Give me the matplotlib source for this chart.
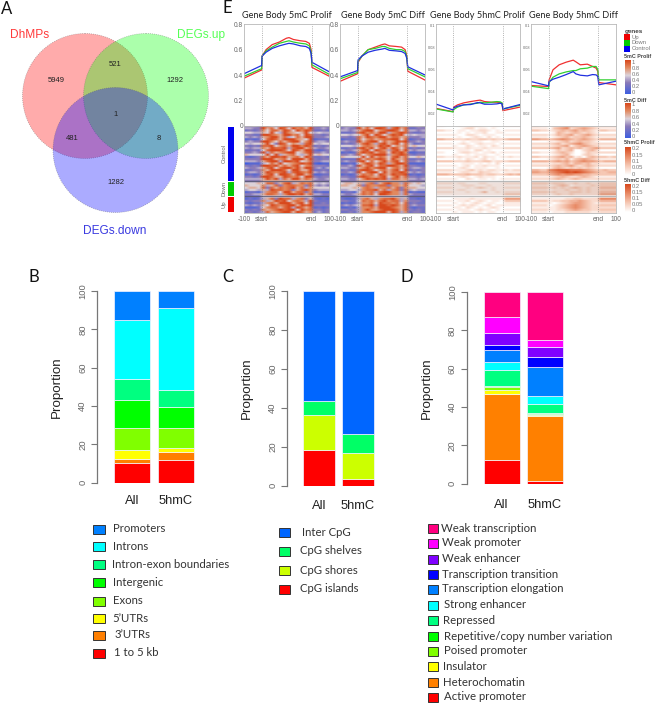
import numpy as np
import matplotlib
matplotlib.use('Agg')
import matplotlib.pyplot as plt
from matplotlib.colors import LinearSegmentedColormap
from matplotlib.patches import Circle, Rectangle

W, H = 655, 703
ARIAL = 'Liberation Sans'
CAL = 'Lato'

# panel A
VENN_NAMES = ['DhMPs', 'DEGs.up', 'DEGs.down']
VENN_COUNTS = [5949, 521, 1292, 481, 1, 8, 1282]

# panel B
B_NAMES = ['1 to 5 kb', "3\u2019UTRs", "5\u2019UTRs", 'Exons', 'Intergenic',
           'Intron-exon boundaries', 'Introns', 'Promoters']
B_ALL = [10.5, 2, 4.5, 11.5, 14.5, 11, 31, 15]
B_HMC = [12, 4, 2, 10.5, 11, 9, 42.5, 9]
B_COLORS = ['#ff0000', '#ff7f00', '#ffff00', '#80ff00', '#00ff00', '#00ff80', '#00ffff', '#0080ff']

# panel C
C_NAMES = ['CpG islands', 'CpG shores', 'CpG shelves', 'Inter CpG']
C_ALL = [18.5, 18, 7, 56.5]
C_HMC = [3.5, 13.5, 9.5, 73.5]
C_COLORS = ['#ff0000', '#ccff00', '#00ff66', '#0066ff']

# panel D
D_NAMES = ['Active promoter', 'Heterochomatin', 'Insulator', 'Poised promoter',
           'Repetitive/copy number variation', 'Repressed', 'Strong enhancer',
           'Transcription elongation', 'Transcription transition', 'Weak enhancer',
           'Weak promoter', 'Weak transcription']
D_ALL = [12.5, 34.5, 2, 1.5, 0.5, 8.5, 4, 6.5, 2.5, 6, 8.5, 13]
D_HMC = [1.5, 34, 0.5, 0.5, 0.5, 4.5, 4, 15.5, 5, 5.5, 3.5, 25]
D_COLORS = ['#ff0000', '#ff8000', '#ffff00', '#80ff00', '#00ff00', '#00ff80', '#00ffff',
            '#0080ff', '#0000ff', '#8000ff', '#ff00ff', '#ff0080']

# panel E profiles
E_TITLES = ['Gene Body 5mC Prolif', 'Gene Body 5mC Diff', 'Gene Body 5hmC Prolif', 'Gene Body 5hmC Diff']
E_X = [0, 100, 103, 125, 160, 200, 240, 255, 280, 320, 350, 370, 380, 385, 483]
P1_UP = [.375, .44, .55, .60, .64, .66, .69, .695, .68, .67, .665, .65, .60, .46, .39]
P1_DOWN = [.39, .45, .55, .59, .62, .65, .665, .67, .66, .65, .645, .63, .58, .48, .405]
P1_CTRL = [.41, .475, .55, .58, .61, .63, .645, .65, .645, .63, .625, .61, .57, .50, .425]
P2_UP = [.35, .41, .50, .55, .60, .62, .64, .645, .63, .625, .62, .60, .55, .43, .36]
P2_DOWN = [.37, .42, .51, .55, .60, .61, .625, .625, .61, .60, .60, .585, .54, .45, .385]
P2_CTRL = [.385, .435, .52, .55, .58, .595, .605, .61, .595, .59, .585, .57, .53, .465, .40]
P3_UP = [.0251, .0221, .0262, .0282, .0300, .0312, .0322, .0325, .0312, .0306, .0306, .0303, .0297, .0230, .0262]
P3_DOWN = [.0246, .0218, .0240, .0262, .0282, .0290, .0297, .0306, .0300, .0306, .0312, .0309, .0300, .0245, .0278]
P3_CTRL = [.0290, .0236, .0255, .0270, .0282, .0285, .0303, .0300, .0288, .0288, .0291, .0297, .0291, .0245, .0285]
P4_UP = [.0457, .0448, .0508, .0599, .0644, .0668, .0686, .0671, .0644, .0650, .0629, .0614, .0583, .0484, .0463]
P4_DOWN = [.0451, .0429, .0484, .0532, .0562, .0580, .0592, .0592, .0608, .0614, .0629, .0629, .0599, .0508, .0508]
P4_CTRL = [.0493, .0454, .0493, .0514, .0532, .0556, .0583, .0562, .0550, .0544, .0556, .0553, .0538, .0463, .0496]

# heatmap rows, one digit per cell: 4 left flank, 12 gene body, 4 right flank
HEAT_1 = [
    '33438954799687583233', '44339685985978693343', '23237588698597982232', '55446595497656954544',
    '33229987699785983323', '43436799684586993334', '12125898699976591222', '34339975868995793443',
    '54556953985764895455', '32328895786997982323', '43447698894899684334', '22325899985986992123',
    '33439486789956893343', '65555959467854695655', '21238699896785982232', '33339996785999693233',
    '44436899499895683344', '01114586956789891011', '32329989686895783332', '43346895899796993424',
    '22337699985996692232', '34436987894898794343', '12126895998699681122', '33239986698785993233',
    '44446979486996874334', '33336666666666663333', '55565883689468785454', '65557468378877384343',
    '56658386878968475555', '45546498878368973444', '12214788599688371211', '33446887479989684433',
    '22225555555555552222', '12124683988478362121', '32337469895787493222', '21224786999689592232',
    '43436598789969893333', '11125788689498681212', '32327678989959783323', '23234867899698672423',
]
HEAT_2 = [
    '23438598689579873343', '34339685998489682233', '44346899578998584434', '22238978699478983223',
    '55455795985798954544', '33238698799688673334', '12228578678899581232', '34339689958679893343',
    '23236897489689584223', '55545787698957685655', '22328979589698582323', '43346895987489694344',
    '12127989688598971122', '33438578999478983233', '65555959687589685565', '22229687898597682232',
    '34338958579689583343', '11215798698479981111', '33429689588998693322', '44336797899578683443',
    '23228998578689592323', '33439589959688984343', '12126878598698891212', '33228987689579683323',
    '44335798989488674434', '33336666666666663333', '56656478368977486565', '66557387788377685554',
    '55565787477868376655', '44554788968478384544', '12215878489977481211', '43346878599877484333',
    '22225555555555552222', '21124786478897462212', '33225878689788473332', '12124778598878582322',
    '34345889499898683433', '11214778699987682122', '33234797689998683232', '22324778999698472332',
]
HEAT_3 = [
    '11000101221001101111', '00000012201101000000', '22110110112210101111', '00000101011200110000',
    '11111002210111001111', '00000100121020100000', '44332223223323223444', '00000010111001100000',
    '11110121012111011111', '00001002101102100000', '22221112111211112222', '00000111022010000000',
    '11000122110112011111', '00001001011100100000', '22111211120211011211', '00000102101201000000',
    '33332223222331222333', '00000011101010200000', '11111012011211101111', '00000121011100100000',
    '22221112312122112122', '11110122113221101111', '44433334333233223434', '00000121012111000000',
    '11111002101101011111', '00000000000000000000', '22221221112211112222', '11111122211121111111',
    '22221112123212112222', '11111221111112111111', '22221112112411212222', '11111111111111113333',
    '00000000000000000000', '00001111211111115555', '11110112012101103333', '00001010121011001111',
    '11110121210120111111', '00001102101012100000', '11110111012110101111', '00001011101011000000',
]
HEAT_4 = [
    '22110123443222212222', '11110345623454321111', '33221234345343213322', '00000143234323210000',
    '22221243452345322222', '11110123423343211111', '55443456543454324444', '00001123423433210000',
    '22222342345643222222', '11111234513454321111', '33333452343423453333', '00000132340023420000',
    '22111234320013222222', '00000123410023210000', '33222345341203433323', '00001232413454321111',
    '44443454534565543444', '11111223424434221111', '22222343453234322222', '00001343232323210000',
    '44336788877765433433', '55445678989876543344', '33334565665544333333', '11111234322343211111',
    '22222343234322222222', '00000000000000000000', '33332333223223223333', '22221234312222323333',
    '33332323234323224444', '22221222322323223333', '33332322233323224444', '22221232232222225555',
    '00000000000000000000', '11111111223322226666', '33331223344543224444', '11111012345543212222',
    '22220123456543223333', '11111123456543222222', '22221122345433223333', '11110111222222112222',
]
HEAT_NAMES = ['Control', 'Down', 'Up']

fig = plt.figure(figsize=(W / 100, H / 100), dpi=100)


def px_axes(left, top, right, bottom):
    return fig.add_axes([left / W, 1 - bottom / H, (right - left) / W, (bottom - top) / H])


page = fig.add_axes([0, 0, 1, 1], zorder=5)
page.set_xlim(0, W)
page.set_ylim(H, 0)
page.axis('off')
page.patch.set_alpha(0)

for letter, x, y in [('A', 1, 9), ('B', 29, 277), ('C', 222, 277), ('D', 401, 277), ('E', 222, 8)]:
    page.text(x, y, letter, fontsize=12, family=CAL, ha='left', va='center', color='#111111')

# venn
for (cx, cy), col in zip([(85, 96), (146, 96), (115.5, 150)], ['#ff0000', '#00ff00', '#0000ff']):
    page.add_patch(Circle((cx, cy), 62.5, fc=col, alpha=0.33, lw=0))
    page.add_patch(Circle((cx, cy), 62.5, fc='none', ec='#666666', lw=0.5, ls=(0, (1, 2)), alpha=0.7))
for name, x, y, col in zip(VENN_NAMES, [30, 201, 115], [35, 35, 231], ['#ff3a3a', '#55ff55', '#3a3ae0']):
    page.text(x, y, name, fontsize=8.6, family=ARIAL, color=col, ha='center', va='center')
for n, x, y in zip(VENN_COUNTS, [56.5, 115, 174.5, 72, 115.5, 158.5, 115.5], [80.5, 64, 80.5, 139, 114.5, 139, 182]):
    page.text(x, y, str(n), fontsize=5.5, family=ARIAL, color='#222222', ha='center', va='center')


def stacked(box, bar_centers, bar_w, all_vals, hmc_vals, colors, ylab_x, pad):
    left, top, right, bottom = box
    ax = px_axes(left, top, right, bottom)
    step = bar_centers[1] - bar_centers[0]
    ax.set_xlim((left - bar_centers[0]) / step, (right - bar_centers[0]) / step)
    ax.set_ylim(0, 100)
    for i, vals in enumerate([all_vals, hmc_vals]):
        base = 0
        for v, c in zip(vals, colors):
            ax.bar(i, v, bottom=base, width=bar_w / step, color=c, edgecolor='#f4f4ff', linewidth=0.5)
            base += v
    for s in ['top', 'right', 'bottom']:
        ax.spines[s].set_visible(False)
    ax.spines['left'].set_color('#777777')
    ax.spines['left'].set_linewidth(0.9)
    ax.set_yticks([0, 20, 40, 60, 80, 100])
    ax.tick_params(axis='y', length=4, width=0.8, color='#777777', labelcolor='#666666', labelsize=6.8, pad=3)
    for t in ax.get_yticklabels():
        t.set_rotation(90)
        t.set_va('center')
        t.set_family(ARIAL)
    ax.set_xticks([0, 1])
    ax.set_xticklabels(['All', '5hmC'], fontsize=9.3, family=ARIAL, color='#222222')
    ax.tick_params(axis='x', length=0, pad=pad)
    page.text(ylab_x, (top + bottom) / 2, 'Proportion', rotation=90, fontsize=9.6, family=ARIAL,
              color='#222222', ha='center', va='center')


stacked((97, 291, 200, 482.7), [132, 175.7], 36, B_ALL, B_HMC, B_COLORS, 57, 9)
stacked((287, 290.7, 380, 485.7), [319, 358], 32, C_ALL, C_HMC, C_COLORS, 247, 10)
stacked((466.7, 292, 570, 483.7), [501.5, 545], 36, D_ALL, D_HMC, D_COLORS, 427, 11)


def legend(names, colors, ys, sw_x, sw_w, text_xs):
    for name, col, y, tx in zip(names, colors, ys, text_xs):
        page.add_patch(Rectangle((sw_x, y - 4.5), sw_w, 9, fc=col, ec='#333333', lw=0.7))
        page.text(tx, y, name, fontsize=8.2, family=CAL, color='#333333', ha='left', va='center')


legend(B_NAMES, B_COLORS, [653, 635, 618, 601, 582, 564, 546.5, 529], 93, 12,
       [114.5, 114.5, 112.5, 112.5, 112.5, 112.5, 112.5, 112.5])
legend(C_NAMES, C_COLORS, [589, 570, 551, 532], 278.5, 11.5, [299.5, 300.5, 300.5, 301.5])
legend(D_NAMES, D_COLORS, [697, 682, 666, 651, 636, 620, 605, 589, 574, 559, 543, 528], 427.5, 10,
       [443.5, 442.5, 443.5, 443.5, 443.5, 443.5, 443.5, 442.5, 442.5, 442.5, 442.5, 441])

# panel E
mc_cmap = LinearSegmentedColormap.from_list('mc', [(0, '#3f5fe0'), (0.33, '#8a7ab8'), (0.55, '#dcd4dc'),
                                                   (0.78, '#e28a60'), (1, '#d8481c')])
hmc_cmap = LinearSegmentedColormap.from_list('hmc', ['#ffffff', '#f6c8b4', '#e88a66', '#d8481c'])
E_BOXES = [(244, 329.3), (340, 425), (435.7, 520), (531, 616)]
E_LINES = [(P1_UP, P1_DOWN, P1_CTRL), (P2_UP, P2_DOWN, P2_CTRL), (P3_UP, P3_DOWN, P3_CTRL), (P4_UP, P4_DOWN, P4_CTRL)]
HEATS = [HEAT_1, HEAT_2, HEAT_3, HEAT_4]
GRAY = '#b8b8b8'

for i, (l, r) in enumerate(E_BOXES):
    ax = px_axes(l, 24.3, r, 125.7)
    for vals, col in zip(E_LINES[i], ['#f03030', '#30d030', '#2030e0']):
        ax.plot(E_X, vals, color=col, lw=0.9)
    ax.set_xlim(0, 483)
    if i < 2:
        ax.set_ylim(0, 0.8)
        ax.set_yticks([0, 0.2, 0.4, 0.6, 0.8])
        ax.set_yticklabels(['0', '0.2', '0.4', '0.6', '0.8'], fontsize=4.8, color='#666666', family=ARIAL)
    else:
        ax.set_ylim(0.0094, 0.101)
        ax.set_yticks([0.02, 0.04, 0.06, 0.08, 0.1])
        ax.set_yticklabels(['0.02', '0.04', '0.06', '0.08', '0.1'], fontsize=2.8, color='#666666', family=ARIAL)
    ax.tick_params(axis='y', length=0, pad=0.5)
    ax.set_xticks([])
    ax.axvline(100, color='#999999', lw=0.6, ls=':')
    ax.axvline(383, color='#999999', lw=0.6, ls=':')
    for s in ax.spines.values():
        s.set_color(GRAY)
        s.set_linewidth(0.6)
    page.text((l + r) / 2, 16, E_TITLES[i], fontsize=6.6, family=CAL, color='#222222', ha='center', va='center')

    hm = px_axes(l, 125.7, r, 212.7)
    grid = np.array([[int(c) for c in row] for row in HEATS[i]], dtype=float)
    # repeat rows so the smoothing only runs along each row, that gives the streaks
    hm.imshow(np.repeat(grid, 8, axis=0), cmap=mc_cmap if i < 2 else hmc_cmap, vmin=0, vmax=9, aspect='auto',
              interpolation='bilinear', interpolation_stage='rgba', extent=(0, 483, 40, 0))
    hm.axvline(100, color='#777777', lw=0.5, ls=':')
    hm.axvline(383, color='#777777', lw=0.5, ls=':')
    sep_col = '#555570' if i < 2 else '#a8a8a8'
    for row_y in [25.5, 32.5]:
        hm.axhline(row_y, color=sep_col, lw=0.9, alpha=0.8)
    if i >= 2:
        hm.axhspan(26, 32, color='#999999', alpha=0.14, lw=0)
    hm.set_xticks([0, 100, 383, 483])
    hm.set_xticklabels(['-100', 'start', 'end', '100'], fontsize=4.8, color='#666666', family=ARIAL)
    hm.tick_params(axis='x', length=0, pad=2.5)
    hm.set_yticks([])
    for s in hm.spines.values():
        s.set_color(GRAY)
        s.set_linewidth(0.6)

# group strip
for name, col, y0, y1 in zip(HEAT_NAMES, ['#0000ee', '#00cc00', '#ee0000'], [127, 182, 197], [181, 196, 212]):
    page.add_patch(Rectangle((228.3, y0), 5.5, y1 - y0, fc=col, lw=0))
    page.text(224, (y0 + y1) / 2, name, rotation=90, fontsize=4.2, family=ARIAL, color='#666666',
              ha='center', va='center')

# side legends
page.text(624.5, 31, 'genes', fontsize=4.6, family=ARIAL, weight='bold', color='#444444', va='center')
for name, col, y in zip(['Up', 'Down', 'Control'], ['#ee0000', '#00cc00', '#0000ee'], [37, 43, 49]):
    page.add_patch(Rectangle((624.3, y - 2.8), 5.7, 5.6, fc=col, lw=0))
    page.text(632, y, name, fontsize=4.2, family=ARIAL, color='#777777', va='center')

CB_TITLES = ['5mC Prolif', '5mC Diff', '5hmC Prolif', '5hmC Diff']
CB_TICKS = [['1', '0.8', '0.6', '0.4', '0.2', '0']] * 2 + [['0.2', '0.15', '0.1', '0.05', '0']] * 2
for title, labels, ty, y0, y1, cmap in zip(CB_TITLES, CB_TICKS, [57, 100, 143, 180], [60, 103, 147, 184],
                                           [94, 138, 175, 212], [mc_cmap, mc_cmap, hmc_cmap, hmc_cmap]):
    page.text(624.5, ty, title, fontsize=3.9, family=ARIAL, weight='bold', color='#444444', va='center')
    cb = px_axes(625, y0, 630.5, y1)
    cb.imshow(np.linspace(1, 0, 64)[:, None], cmap=cmap, aspect='auto')
    cb.axis('off')
    for lab, y in zip(labels, np.linspace(y0 + 2, y1 - 1, len(labels))):
        page.text(632, y, lab, fontsize=4.2, family=ARIAL, color='#777777', va='center')

fig.savefig('out.png', dpi=100)
